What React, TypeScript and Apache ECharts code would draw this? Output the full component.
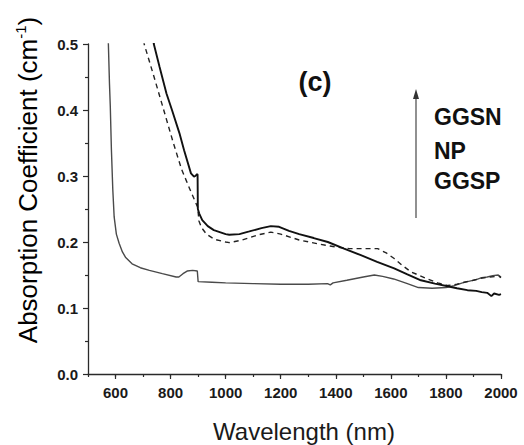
import React, { useEffect, useRef } from "react";
import * as echarts from "echarts";

// Wavelength (nm) and absorption coefficient (cm^-1) for each sample
const ggspX = [568, 574, 578, 581, 585, 590, 595, 603, 613, 625, 636, 660, 690, 723, 770, 820, 830, 845, 860, 880, 897, 900, 950, 1000, 1100, 1200, 1300, 1370, 1380, 1390, 1440, 1500, 1540, 1570, 1610, 1660, 1700, 1750, 1800, 1830, 1860, 1890, 1910, 1930, 1950, 1970, 1990, 2000];
const ggspY = [0.56, 0.5, 0.44, 0.405, 0.34, 0.28, 0.238, 0.212, 0.198, 0.185, 0.177, 0.167, 0.161, 0.157, 0.152, 0.147, 0.147, 0.152, 0.156, 0.157, 0.156, 0.14, 0.139, 0.138, 0.137, 0.136, 0.136, 0.137, 0.135, 0.138, 0.142, 0.147, 0.15, 0.148, 0.144, 0.137, 0.131, 0.13, 0.131, 0.134, 0.138, 0.141, 0.143, 0.146, 0.147, 0.149, 0.15, 0.147];

const npX = [695, 704, 740, 775, 810, 840, 870, 898, 900, 903, 912, 930, 960, 1000, 1013, 1060, 1120, 1164, 1200, 1267, 1363, 1407, 1450, 1552, 1585, 1612, 1640, 1672, 1733, 1770, 1806, 1840, 1866, 1900, 1926, 1960, 1993, 2000];
const npY = [0.56, 0.5, 0.45, 0.4, 0.35, 0.31, 0.28, 0.253, 0.245, 0.232, 0.222, 0.212, 0.204, 0.2, 0.199, 0.203, 0.211, 0.215, 0.212, 0.203, 0.195, 0.192, 0.19, 0.19, 0.183, 0.175, 0.165, 0.155, 0.144, 0.138, 0.134, 0.136, 0.139, 0.142, 0.145, 0.147, 0.148, 0.146];

const ggsnX = [730, 739, 760, 785, 805, 832, 849, 874, 885, 890, 896, 898, 899, 904, 915, 935, 957, 1000, 1013, 1050, 1086, 1130, 1164, 1194, 1230, 1267, 1320, 1371, 1430, 1491, 1550, 1612, 1660, 1709, 1760, 1806, 1840, 1878, 1910, 1930, 1950, 1965, 1975, 1993, 2000];
const ggsnY = [0.53, 0.5, 0.465, 0.425, 0.4, 0.365, 0.339, 0.304, 0.299, 0.3, 0.303, 0.302, 0.25, 0.243, 0.233, 0.224, 0.218, 0.212, 0.211, 0.212, 0.216, 0.221, 0.224, 0.223, 0.217, 0.212, 0.206, 0.2, 0.19, 0.18, 0.17, 0.16, 0.151, 0.142, 0.137, 0.133, 0.13, 0.127, 0.126, 0.124, 0.123, 0.118, 0.122, 0.12, 0.121];

const xMajorTicks = [600, 800, 1000, 1200, 1400, 1600, 1800, 2000];
const sampleLabels = ["GGSN", "NP", "GGSP"];

const FONT = "'Liberation Sans', Arial, Helvetica, sans-serif";
const zip = (xs: number[], ys: number[]) => xs.map((x, i) => [x, ys[i]]);

export default function App() {
  const ref = useRef<HTMLDivElement>(null);
  useEffect(() => {
    if (!ref.current) return;
    const chart = echarts.init(ref.current, null, { renderer: "svg" });
    const axisColor = "#2a2a2a";
    const labelStyle = { fontFamily: FONT, fontWeight: "bold" as const, fontSize: 15, color: "#1a1a1a" };
    chart.setOption({
      animation: false,
      backgroundColor: "#ffffff",
      grid: { left: 88, right: 23, top: 44, bottom: 71 },
      xAxis: [
        {
          type: "value",
          min: 500,
          max: 2000,
          interval: 100,
          position: "bottom",
          axisLine: { show: true, onZero: false, lineStyle: { color: axisColor, width: 1.3, opacity: 0 } },
          axisTick: { show: true, length: 3, lineStyle: { color: axisColor, width: 1.2 } },
          axisLabel: { show: false },
          splitLine: { show: false },
        },
        {
          type: "value",
          min: 500,
          max: 2000,
          position: "bottom",
          axisLine: { show: true, onZero: false, lineStyle: { color: axisColor, width: 1.3 } },
          axisTick: { show: true, length: 5, customValues: xMajorTicks, lineStyle: { color: axisColor, width: 1.2 } },
          axisLabel: { ...labelStyle, margin: 11, customValues: xMajorTicks, formatter: (v: number) => String(v) },
          splitLine: { show: false },
        },
      ],
      yAxis: {
        type: "value",
        min: 0,
        max: 0.5,
        interval: 0.1,
        axisLine: { show: true, lineStyle: { color: axisColor, width: 1.3 } },
        axisTick: { show: true, length: 5, lineStyle: { color: axisColor, width: 1.2 } },
        minorTick: { show: true, splitNumber: 2, length: 3, lineStyle: { color: axisColor, width: 1.2 } },
        axisLabel: { ...labelStyle, margin: 10, formatter: (v: number) => v.toFixed(1) },
        splitLine: { show: false },
      },
      series: [
        {
          name: "GGSP",
          type: "line",
          xAxisIndex: 0,
          data: zip(ggspX, ggspY),
          showSymbol: false,
          lineStyle: { color: "#4a4a4a", width: 1.4 },
          clip: true,
        },
        {
          name: "NP",
          type: "line",
          xAxisIndex: 1,
          data: zip(npX, npY),
          showSymbol: false,
          lineStyle: { color: "#222222", width: 1.4, type: [5, 4] },
          clip: true,
        },
        {
          name: "GGSN",
          type: "line",
          xAxisIndex: 1,
          data: zip(ggsnX, ggsnY),
          showSymbol: false,
          lineStyle: { color: "#111111", width: 1.9 },
          clip: true,
        },
      ],
      graphic: [
        {
          type: "text",
          x: 28,
          y: 180,
          rotation: Math.PI / 2,
          style: {
            text: "{a|Absorption Coefficient (cm}{s|-1}{a|)}",
            align: "center",
            verticalAlign: "middle",
            rich: {
              a: { fontFamily: FONT, fontSize: 26, color: "#1a1a1a", lineHeight: 30 },
              s: { fontFamily: FONT, fontSize: 15, color: "#1a1a1a", verticalAlign: "top", lineHeight: 15 },
            },
          },
        },
        {
          type: "text",
          x: 304,
          y: 431,
          style: { text: "Wavelength (nm)", font: `24px ${FONT}`, fill: "#1a1a1a", align: "center", verticalAlign: "middle" },
        },
        {
          type: "text",
          x: 315,
          y: 82,
          style: { text: "(c)", font: `bold 27px ${FONT}`, fill: "#111", align: "center", verticalAlign: "middle" },
        },
        {
          type: "text",
          x: 434,
          y: 117,
          style: { text: sampleLabels[0], font: `bold 23px ${FONT}`, fill: "#111", align: "left", verticalAlign: "middle" },
        },
        {
          type: "text",
          x: 434,
          y: 151,
          style: { text: sampleLabels[1], font: `bold 23px ${FONT}`, fill: "#111", align: "left", verticalAlign: "middle" },
        },
        {
          type: "text",
          x: 434,
          y: 181,
          style: { text: sampleLabels[2], font: `bold 23px ${FONT}`, fill: "#111", align: "left", verticalAlign: "middle" },
        },
        {
          type: "line",
          shape: { x1: 416, y1: 96, x2: 416, y2: 218 },
          style: { stroke: "#555", lineWidth: 1.3 },
        },
        {
          type: "polygon",
          shape: { points: [[416, 89], [413, 99], [419, 99]] },
          style: { fill: "#333" },
        },
      ],
    });
    return () => chart.dispose();
  }, []);
  return <div ref={ref} style={{ position: "fixed", left: 0, top: 0, width: 524, height: 445 }} />;
}
